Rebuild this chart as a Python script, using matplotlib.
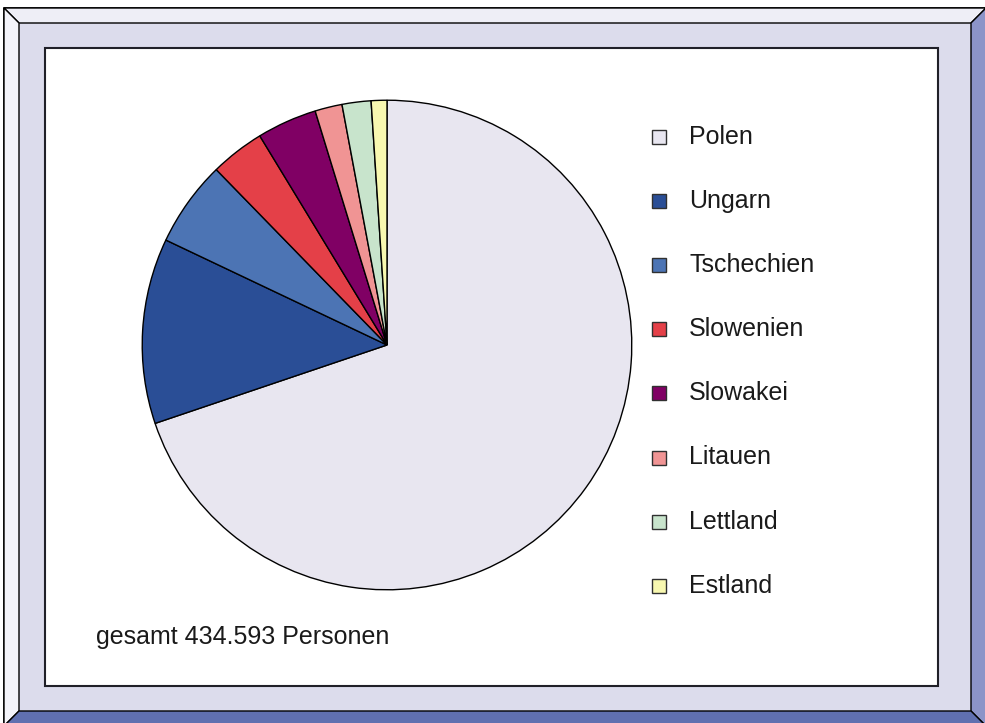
import matplotlib.pyplot as plt
from matplotlib.patches import Polygon, Rectangle

plt.rcParams['font.family'] = ['Liberation Sans', 'DejaVu Sans']

laender = ['Polen', 'Ungarn', 'Tschechien', 'Slowenien', 'Slowakei',
           'Litauen', 'Lettland', 'Estland']
personen = [303400, 53200, 24600, 15600, 17200, 7800, 8300, 4500]
farben = ['#E8E6F0', '#2A4E96', '#4C74B4', '#E44048', '#800064',
          '#F09494', '#C8E4CC', '#F8F8B0']
gesamt_text = 'gesamt 434.593 Personen'

W, H = 985, 723
fig = plt.figure(figsize=(W / 100, H / 100), dpi=100)
fig.patch.set_facecolor('white')


def px(x, y):
    return (x / W, 1 - y / H)


def poly(pts, fc, ec='none', lw=0, z=0):
    fig.add_artist(Polygon([px(*p) for p in pts], closed=True, facecolor=fc,
                           edgecolor=ec, linewidth=lw, transform=fig.transFigure,
                           zorder=z))


# bevelled frame
x0, y0, x1, y1 = 4, 8, 986, 726
b = 15
poly([(x0, y0), (x1, y0), (x1, y1), (x0, y1)], '#DCDCEC', '#000000', 1.2)
poly([(x0, y0), (x1, y0), (x1 - b, y0 + b), (x0 + b, y0 + b)], '#EEEEF6', '#000000', 1.0)
poly([(x0, y0), (x0 + b, y0 + b), (x0 + b, y1 - b), (x0, y1)], '#F4F4FA', '#000000', 1.0)
poly([(x1, y0), (x1, y1), (x1 - b, y1 - b), (x1 - b, y0 + b)], '#8C94C8', '#000000', 1.0)
poly([(x0, y1), (x0 + b, y1 - b), (x1 - b, y1 - b), (x1, y1)], '#6070B0', '#000000', 1.0)

# white inner panel
fig.add_artist(Rectangle(px(45, 686), (938 - 45) / W, (686 - 48) / H,
                         facecolor='white', edgecolor='#202028', linewidth=1.5,
                         transform=fig.transFigure, zorder=1))

# pie
cx, cy, r = 387, 345, 246
ax = fig.add_axes([(cx - r) / W, 1 - (cy + r) / H, 2 * r / W, 2 * r / H])
ax.set_zorder(2)
ax.pie(personen, colors=farben, startangle=90, counterclock=False, radius=1,
       wedgeprops=dict(edgecolor='black', linewidth=1.0))
ax.set_xlim(-1.005, 1.005)
ax.set_ylim(-1.005, 1.005)
ax.set_aspect('equal')
ax.axis('off')

# legend
for i, (name, col) in enumerate(zip(laender, farben)):
    y = 137 + i * 64.1
    fig.add_artist(Rectangle(px(652, y + 7), 14 / W, 14 / H, facecolor=col,
                             edgecolor='#303030', linewidth=1.0,
                             transform=fig.transFigure, zorder=3))
    fig.text(*px(689, y), name, fontsize=18, va='center', ha='left',
             color='#1a1a1a', zorder=3)

fig.text(*px(96, 637), gesamt_text, fontsize=18, va='center', ha='left',
         color='#1a1a1a', zorder=3)

fig.savefig('out.png', dpi=100)
